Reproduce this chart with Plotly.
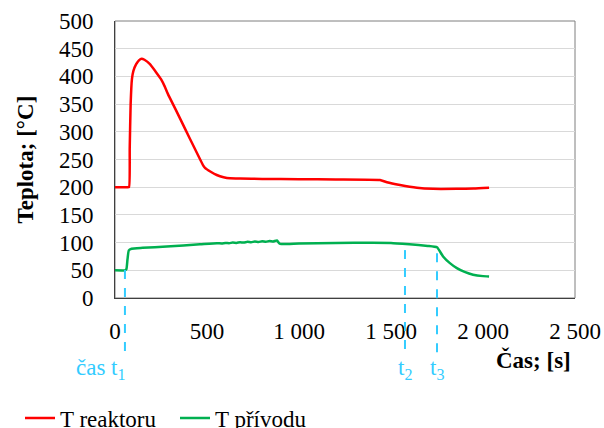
import plotly.graph_objects as go

# Data
t_reaktor = [0, 60, 76, 80, 85, 92, 100, 115, 130, 145, 160, 190, 220, 250, 270, 288,
             330, 383, 430, 478, 489, 520, 553, 590, 625, 680, 800, 1000, 1200, 1440,
             1478, 1549, 1641, 1728, 1858, 1950, 2033]
T_reaktor = [200, 200, 200, 270, 350, 395, 410, 422, 429, 432, 430, 422, 409, 395, 382, 368,
             340, 304, 272, 240, 235, 228, 222, 218, 216, 215.5, 215, 214.5, 214, 213,
             209, 204, 199, 197, 197, 197.5, 199]

t_privod = [0, 55, 62, 68, 75, 90, 150, 281, 462, 554, 580, 600, 620, 640, 660, 680,
            700, 720, 740, 760, 780, 800, 820, 840, 860, 880, 892, 905, 1000, 1200,
            1400, 1500, 1600, 1700, 1750, 1783, 1820, 1858, 1900, 1946, 2000, 2033]
T_privod = [50, 50, 52, 70, 86, 89, 90.5, 93, 97, 99, 98.5, 99.5, 99, 100, 99.5, 100.5,
            100, 101.5, 100.5, 102, 101, 102.5, 101.5, 103, 102, 104, 99, 97.5, 98.5, 99.3,
            99.8, 99.5, 97, 94, 91.5, 75, 63, 54, 47, 42, 39.5, 39]

x_ticks = [0, 500, 1000, 1500, 2000, 2500]
x_ticktext = ["0", "500", "1 000", "1 500", "2 000", "2 500"]
y_ticks = [0, 50, 100, 150, 200, 250, 300, 350, 400, 450, 500]

marker_times = [54, 1576, 1750]
marker_labels = ["čas t<sub>1</sub>", "t<sub>2</sub>", "t<sub>3</sub>"]
marker_tops = [0.101, 0.173, 0.162]

FONT = "Liberation Serif, Times New Roman, serif"
CYAN = "#33CCFF"

fig = go.Figure()
fig.add_trace(go.Scatter(x=t_reaktor, y=T_reaktor, mode="lines", name="T reaktoru",
                         line=dict(color="#FF0000", width=2.5, shape="spline", smoothing=0.4)))
fig.add_trace(go.Scatter(x=t_privod, y=T_privod, mode="lines", name="T přívodu",
                         line=dict(color="#00B050", width=2.5, shape="spline", smoothing=0.4)))

shapes = [dict(type="rect", xref="paper", yref="paper", x0=0, x1=1, y0=0, y1=1,
               line=dict(color="#7F7F7F", width=1), layer="below")]
annotations = []
for tm, lab, top in zip(marker_times, marker_labels, marker_tops):
    shapes.append(dict(type="line", xref="x", yref="paper", x0=tm, x1=tm, y0=top, y1=-0.206,
                       line=dict(color=CYAN, width=2, dash="dash")))
for i, (tm, lab) in enumerate(zip(marker_times, marker_labels)):
    if i == 0:
        annotations.append(dict(x=tm + 18, y=-0.255, xref="x", yref="paper", text=lab,
                                showarrow=False, xanchor="right", yanchor="middle",
                                font=dict(family=FONT, size=23, color=CYAN)))
    else:
        annotations.append(dict(x=tm, y=-0.255, xref="x", yref="paper", text=lab,
                                showarrow=False, xanchor="center", yanchor="middle",
                                font=dict(family=FONT, size=23, color=CYAN)))

annotations.append(dict(x=(533 - 115) / 460, y=(298 - 360) / 277, xref="paper", yref="paper",
                        text="<b>Čas; [s]</b>", showarrow=False, xanchor="center", yanchor="middle",
                        font=dict(family=FONT, size=23, color="black")))
annotations.append(dict(x=(25 - 115) / 460, y=0.5, xref="paper", yref="paper",
                        text="<b>Teplota; [°C]</b>", showarrow=False, textangle=-90,
                        xanchor="center", yanchor="middle",
                        font=dict(family=FONT, size=23, color="black")))

fig.update_layout(
    width=604, height=428,
    margin=dict(l=115, r=29, t=21, b=130, autoexpand=False),
    paper_bgcolor="white", plot_bgcolor="white",
    font=dict(family=FONT, size=23, color="black"),
    showlegend=True,
    legend=dict(orientation="h", xref="container", yref="container",
                x=20 / 604, y=(428 - 418) / 428,
                xanchor="left", yanchor="middle", itemwidth=30, entrywidth=110,
                font=dict(family=FONT, size=23, color="black"),
                bgcolor="rgba(0,0,0,0)", tracegroupgap=0),
    xaxis=dict(range=[0, 2500], tickvals=x_ticks, ticktext=x_ticktext, showgrid=False,
               zeroline=False, showline=True, linecolor="#404040", linewidth=1,
               automargin=False,
               ticks="", ticklabelstandoff=12, tickfont=dict(family=FONT, size=23)),
    yaxis=dict(range=[0, 500], tickvals=y_ticks, showgrid=True, gridcolor="#D9D9D9",
               gridwidth=1, zeroline=False, showline=True, linecolor="#404040", linewidth=1,
               automargin=False,
               ticks="", ticklabelstandoff=16, tickfont=dict(family=FONT, size=23)),
    shapes=shapes,
    annotations=annotations,
)

fig.write_html("out.html")
